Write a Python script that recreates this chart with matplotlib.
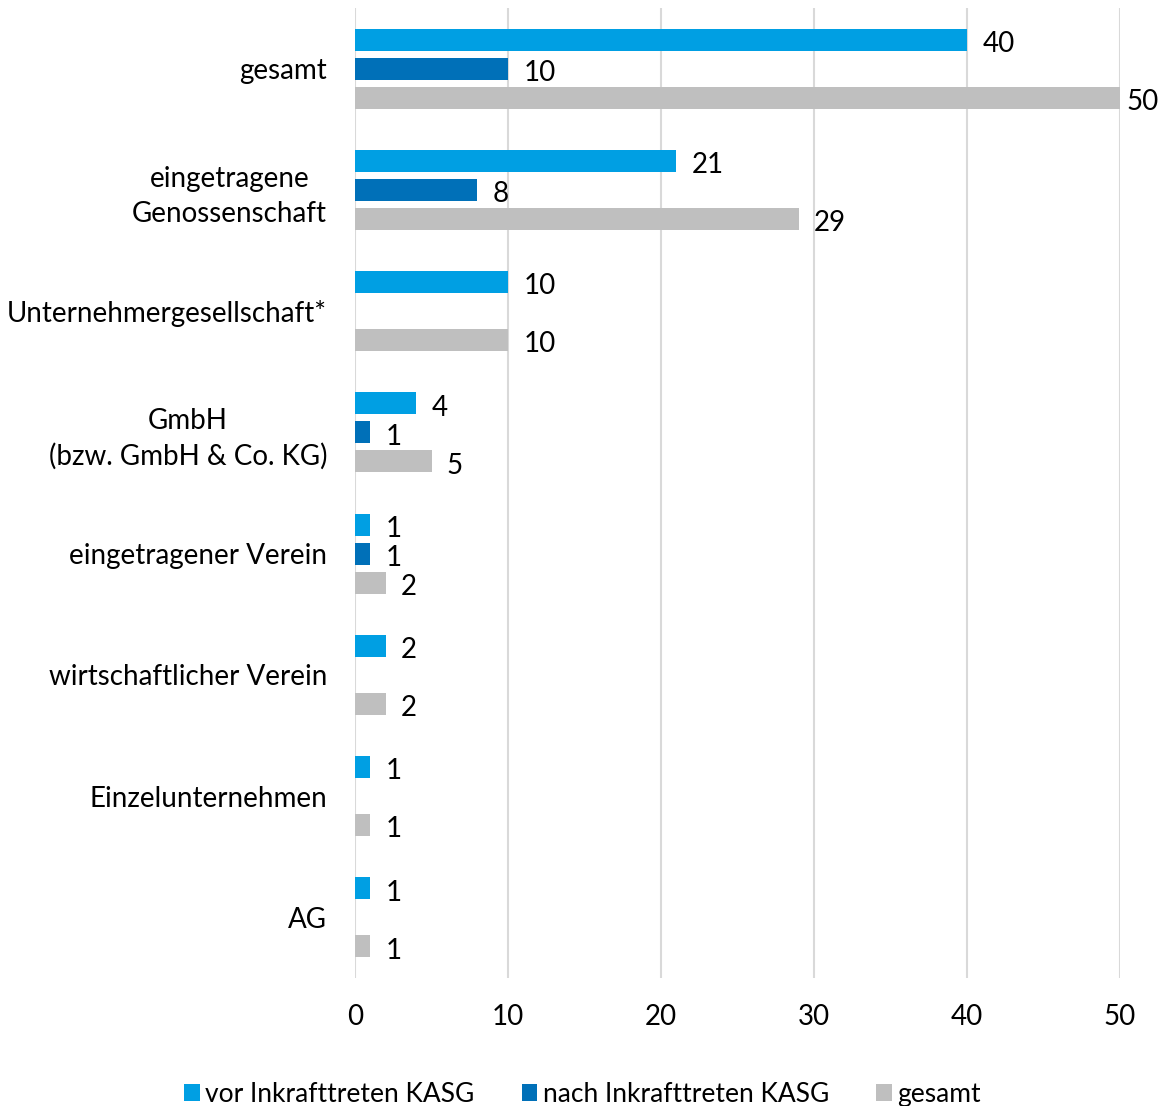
import numpy as np
import matplotlib.pyplot as plt

plt.rcParams['font.family'] = ['Lato', 'DejaVu Sans']

# ---- Daten ----
kategorien = ["gesamt", "eingetragene\nGenossenschaft", "Unternehmergesellschaft*",
              "GmbH\n(bzw. GmbH & Co. KG)", "eingetragener Verein",
              "wirtschaftlicher Verein", "Einzelunternehmen", "AG"]
vor = [40, 21, 10, 4, 1, 2, 1, 1]
nach = [10, 8, None, 1, 1, None, None, None]
gesamt = [50, 29, 10, 5, 2, 2, 1, 1]
serien = ["vor Inkrafttreten KASG", "nach Inkrafttreten KASG", "gesamt"]
farben = ["#009FE3", "#0070B8", "#BFBFBF"]

# ---- Plot ----
fig = plt.figure(figsize=(11.65, 11.06), dpi=100)
ax = fig.add_axes([355 / 1165, 1 - 978 / 1106, (1120 - 355) / 1165, (978 - 8) / 1106])

xmax = 50
y = np.arange(len(kategorien))
h = 22 / 121
off = 29 / 121
fs = 20
for i, (werte, farbe) in enumerate(zip([vor, nach, gesamt], farben)):
    pos = y + (i - 1) * off
    v = np.array([np.nan if w is None else w for w in werte], dtype=float)
    ax.barh(pos, v, height=h, color=farbe, label=serien[i], zorder=3)
    for p, w in zip(pos, werte):
        if w is not None:
            dx = 0.45 if w >= xmax else 1.0   # am Rand näher an den Balken
            ax.text(w + dx, p + 0.035, str(w), va="center", ha="left",
                    fontsize=fs, color="#000000", clip_on=False)

ax.set_xlim(0, xmax)
ax.set_ylim(len(kategorien) - 0.5, -0.5)
ax.set_xticks(range(0, 51, 10))
ax.set_yticks(y)
ax.set_yticklabels(kategorien, fontsize=fs, linespacing=1.4)
for lbl in ax.get_yticklabels():
    lbl.set_multialignment("center")
ax.tick_params(axis="x", labelsize=fs, length=0, pad=19)
ax.tick_params(axis="y", length=0, pad=20)
ax.grid(axis="x", color="#D9D9D9", linewidth=1.5, zorder=0)
for s in ax.spines.values():
    s.set_visible(False)

fig.legend(loc="lower center", bbox_to_anchor=(0.5, -0.022), ncol=3, frameon=False,
           fontsize=19, handlelength=0.6, handleheight=0.6, handletextpad=0.2,
           columnspacing=1.8)

fig.savefig("out.png", dpi=100)
